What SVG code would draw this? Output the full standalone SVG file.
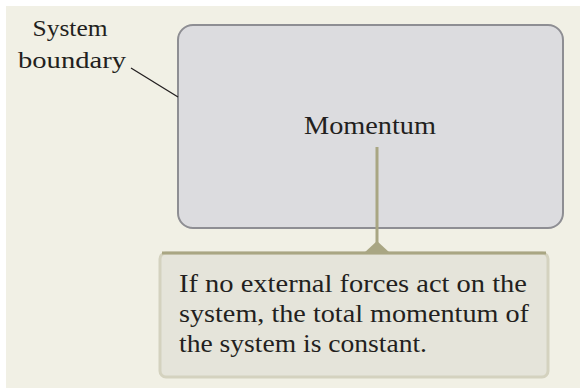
<svg xmlns="http://www.w3.org/2000/svg" width="580" height="388" viewBox="0 0 580 388">
<style>
.t{font-family:"Liberation Serif","Times New Roman",serif;fill:#231f20;}
</style>
<rect x="0" y="0" width="580" height="388" fill="#ffffff"/>
<rect x="6" y="6" width="574" height="382" fill="#f1f0e5"/>
<g id="system">
<rect x="178" y="25" width="385" height="203" rx="15" fill="#dcdcdf" stroke="#8e8e93" stroke-width="2"/>
<text class="t" x="370" y="134" font-size="25" text-anchor="middle" textLength="132" lengthAdjust="spacingAndGlyphs">Momentum</text>
</g>
<g id="label">
<text class="t" x="70" y="36" font-size="23" text-anchor="middle" textLength="75" lengthAdjust="spacingAndGlyphs">System</text>
<text class="t" x="72" y="68" font-size="23" text-anchor="middle" textLength="108" lengthAdjust="spacingAndGlyphs">boundary</text>
</g>
<g id="callout">
<rect x="160" y="253" width="388" height="124" rx="6" fill="#e5e4da" stroke="#d4d2bf" stroke-width="3"/>
<text class="t" x="179" y="292" font-size="25" textLength="348" lengthAdjust="spacingAndGlyphs">If no external forces act on the</text>
<text class="t" x="179" y="322" font-size="25" textLength="350" lengthAdjust="spacingAndGlyphs">system, the total momentum of</text>
<text class="t" x="179" y="352" font-size="25" textLength="248" lengthAdjust="spacingAndGlyphs">the system is constant.</text>
</g>
<g id="connectors">
<line x1="131" y1="68" x2="178" y2="97" stroke="#231f20" stroke-width="1.3"/>
<line x1="377" y1="147" x2="377" y2="250" stroke="#a9a683" stroke-width="3"/>
<polygon points="364,253 377,241 390,253" fill="#a9a683"/>
<line x1="162" y1="253" x2="546" y2="253" stroke="#a9a683" stroke-width="3"/>
</g>
</svg>
